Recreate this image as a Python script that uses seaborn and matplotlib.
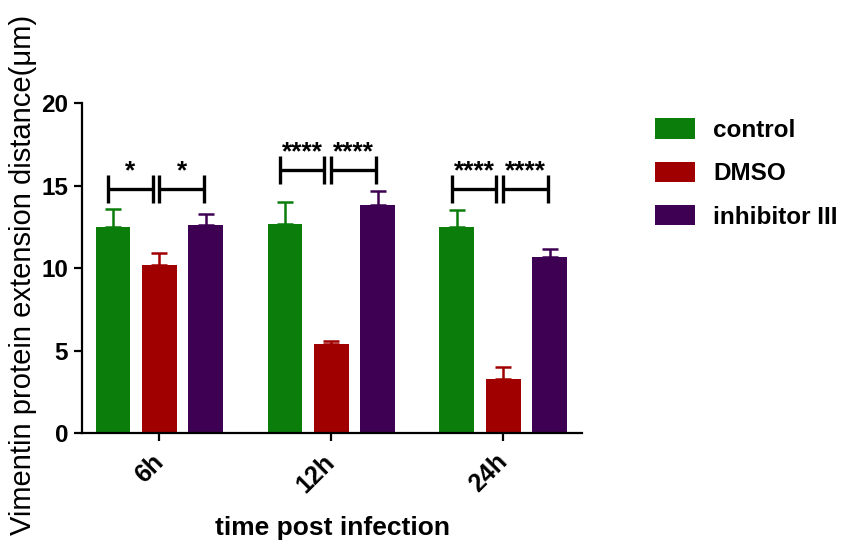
import pandas as pd
import seaborn as sns
import matplotlib.pyplot as plt

# ==========================================
# DATA
# ==========================================
times = ['6h', '12h', '24h']
groups = ['control', 'DMSO', 'inhibitor III']

control_mean = [12.5, 12.7, 12.5]
control_err = [1.1, 1.3, 1.0]
dmso_mean = [10.2, 5.4, 3.3]
dmso_err = [0.7, 0.18, 0.7]
inhib_mean = [12.6, 13.8, 10.7]
inhib_err = [0.7, 0.85, 0.45]

# significance brackets: bracket level and labels per time point
sig_level = [14.8, 15.95, 14.8]
sig_left = ['*', '****', '****']
sig_right = ['*', '****', '****']

colors = ['#0b7d0b', '#a00000', '#3d0052']

# ==========================================
# SETUP
# ==========================================
sns.set_theme(style='ticks')
plt.rcParams['font.family'] = ['Liberation Sans', 'DejaVu Sans']
plt.rcParams['text.color'] = 'black'
plt.rcParams['axes.labelcolor'] = 'black'
plt.rcParams['xtick.color'] = 'black'
plt.rcParams['ytick.color'] = 'black'

df = pd.DataFrame({
    'time': times * 3,
    'group': [g for g in groups for _ in times],
    'value': control_mean + dmso_mean + inhib_mean,
})
errs = [control_err, dmso_err, inhib_err]

fig = plt.figure(figsize=(8.51, 5.51), dpi=100)
ax = fig.add_axes([0.0964, 0.214, 0.588, 0.599])

sns.barplot(data=df, x='time', y='value', hue='group', order=times,
            hue_order=groups, palette=colors, errorbar=None,
            width=0.81, gap=0.25, saturation=1, ax=ax, linewidth=0)

# upward-only error bars on each bar
for cont, err, col in zip(ax.containers, errs, colors):
    for bar, e in zip(cont, err):
        xc = bar.get_x() + bar.get_width() / 2
        h = bar.get_height()
        ax.errorbar(xc, h, yerr=[[0], [e]], fmt='none', ecolor=col,
                    elinewidth=1.8, capsize=5.5, capthick=1.8, zorder=3)

# significance brackets
half = 0.85
for i in range(len(times)):
    c0 = ax.containers[0][i]
    c1 = ax.containers[1][i]
    c2 = ax.containers[2][i]
    x0 = c0.get_x() + c0.get_width() / 2
    x1 = c1.get_x() + c1.get_width() / 2
    x2 = c2.get_x() + c2.get_width() / 2
    lvl = sig_level[i]
    spans = [(x0 - 0.03, x1 - 0.04, sig_left[i]), (x1 + 0.0, x2 - 0.01, sig_right[i])]
    for a, b, lab in spans:
        ax.plot([a, b], [lvl, lvl], color='black', lw=2.4, solid_capstyle='butt')
        ax.plot([a, a], [lvl - half, lvl + half], color='black', lw=2.4, solid_capstyle='butt')
        ax.plot([b, b], [lvl - half, lvl + half], color='black', lw=2.4, solid_capstyle='butt')
        ax.text((a + b) / 2, lvl + 0.35, lab, ha='center', va='bottom',
                fontsize=19, fontweight='bold', color='black')

# ==========================================
# AXES STYLING
# ==========================================
ax.set_ylim(0, 20)
ax.set_xlim(-0.45, 2.46)
ax.set_yticks([0, 5, 10, 15, 20])
sns.despine(ax=ax)
for side in ['left', 'bottom']:
    ax.spines[side].set_linewidth(1.6)
    ax.spines[side].set_color('black')
ax.tick_params(axis='both', width=1.6, length=6, color='black', labelsize=17.5)
ax.tick_params(axis='y', pad=4)
for lab in ax.get_yticklabels():
    lab.set_fontweight('bold')
ax.set_xticks(range(len(times)))
ax.set_xticklabels(times, rotation=45, ha='right', va='center',
                   rotation_mode='anchor', fontweight='bold', fontsize=18)
ax.tick_params(axis='x', pad=12)

ax.set_xlabel('time post infection', fontsize=19, fontweight='bold')
ax.xaxis.set_label_coords(0.5, -0.25)
ax.set_ylabel('Vimentin protein extension distance(μm)', fontsize=21)
ax.yaxis.set_label_coords(-0.09, 0.48)

sns.move_legend(ax, 'upper left', bbox_to_anchor=(0.755, 0.807),
                bbox_transform=fig.transFigure, frameon=False, title=None,
                prop={'weight': 'bold', 'size': 17.5}, handlelength=1.65,
                handleheight=0.9, labelspacing=0.82, handletextpad=0.75,
                borderpad=0)

fig.savefig('out.png', dpi=100)
